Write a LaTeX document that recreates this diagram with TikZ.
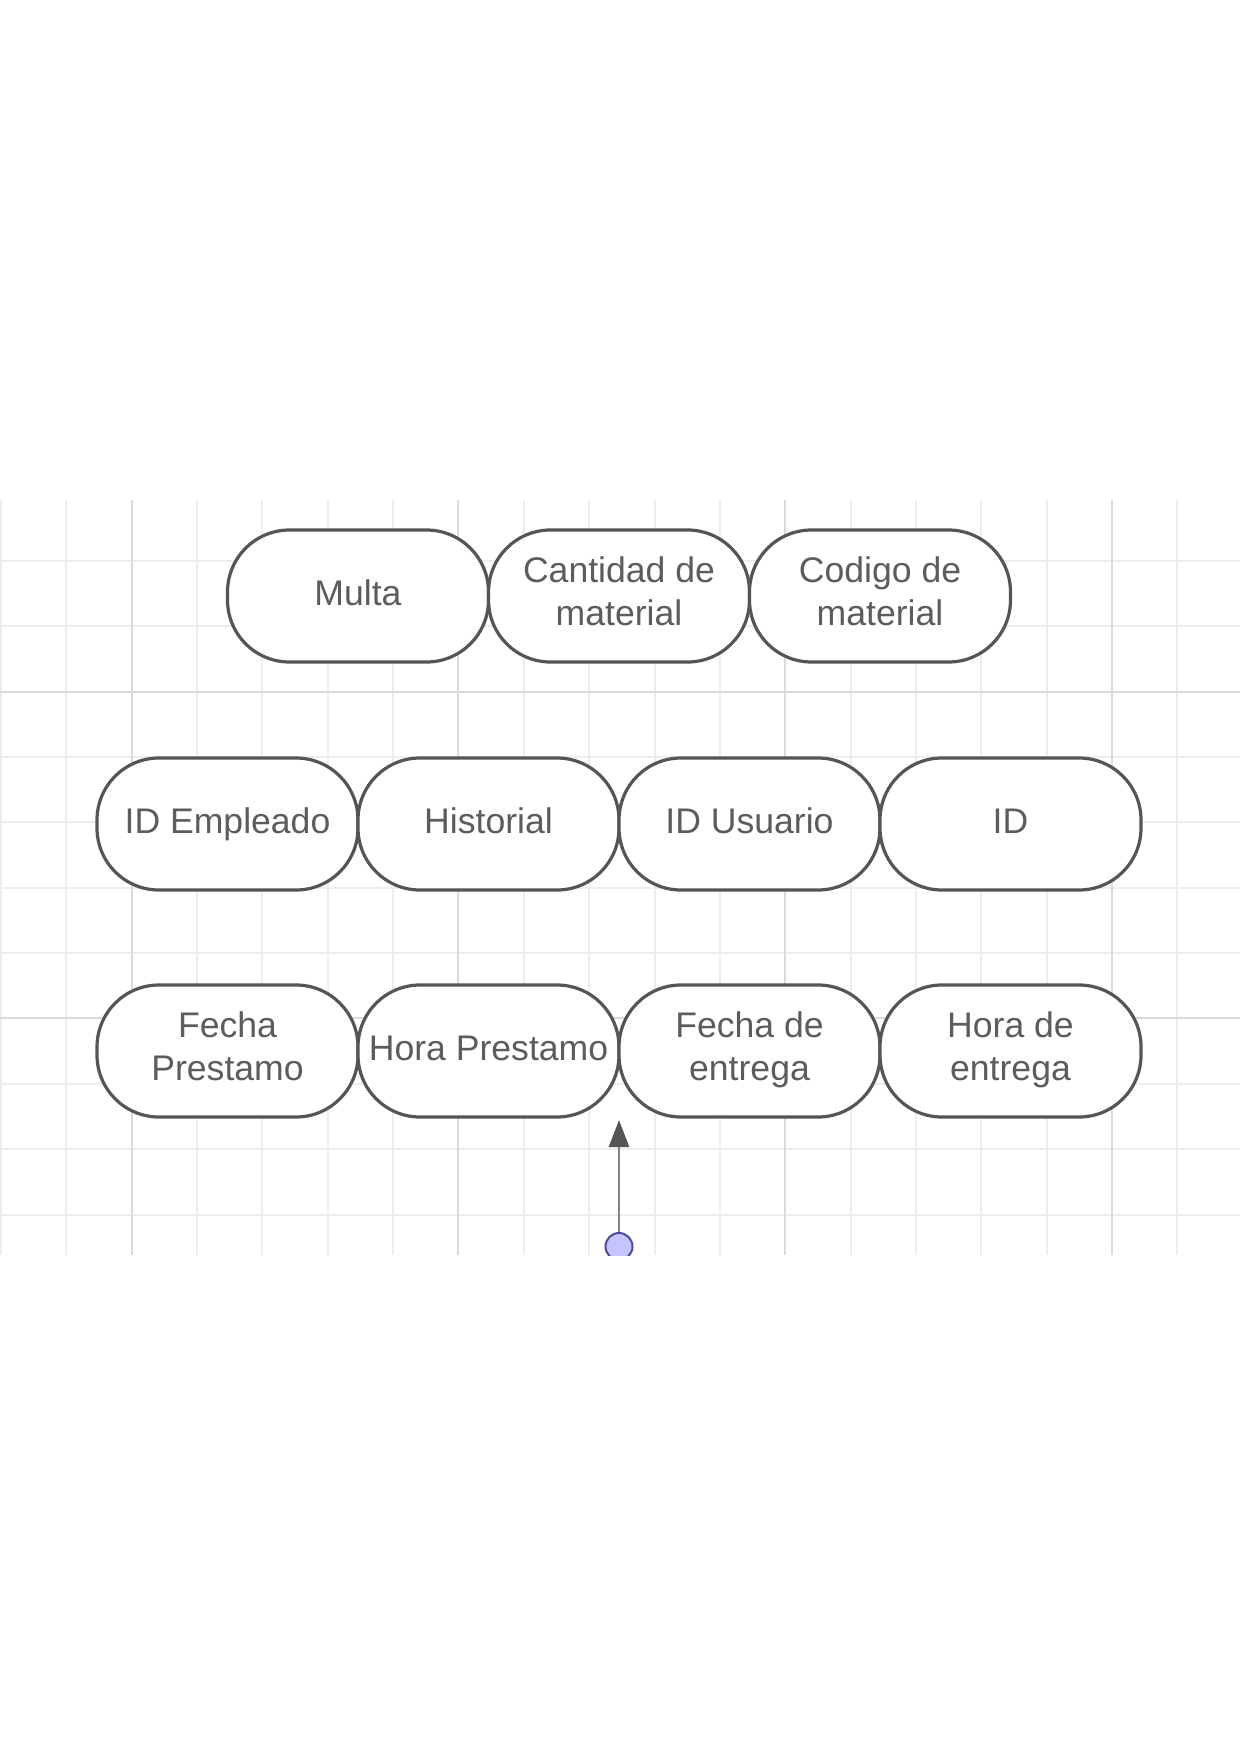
\documentclass[tikz,border=0pt]{standalone}
\usepackage{fontspec}
\setmainfont{Liberation Sans}
\usetikzlibrary{arrows.meta, positioning}
\definecolor{edgegray}{HTML}{555555}
\definecolor{labelgray}{HTML}{5C5C5C}
\definecolor{shaftgray}{HTML}{858585}
\definecolor{gridminor}{HTML}{EDEDED}
\definecolor{gridmajor}{HTML}{DADADA}
\definecolor{dotfill}{HTML}{C4C4FF}
\definecolor{dotline}{HTML}{4C4C9C}
\newcommand{\labelstrut}{\rule[-4.7pt]{0pt}{18.7pt}}

\begin{document}
\begin{tikzpicture}[
    x=0.5pt, y=-0.5pt,
    >={Triangle[width=10pt, length=13.5pt, fill=edgegray, color=edgegray]},
    attr/.style ={draw=edgegray, line width=1.6pt, rounded corners=31pt,
                  fill=white, text=labelgray, align=center,
                  minimum width=130.5pt, minimum height=66pt,
                  inner sep=0pt, outer sep=0pt,
                  font=\fontsize{17.8}{21.5}\selectfont,
                  execute at begin node=\labelstrut,
                  execute at end node=\labelstrut},
    minorline/.style={draw=gridminor, line width=1pt},
    majorline/.style={draw=gridmajor, line width=1pt},
    dot/.style ={draw=dotline, fill=dotfill, circle, line width=1pt,
                 minimum size=13.5pt, inner sep=0pt},
    flow/.style={->, draw=shaftgray, line width=1.3pt},
]
\useasboundingbox (0,0) rectangle (1240,1755);
% background grid
\foreach \k in {0,...,18}
  \draw[minorline] (1.0+65.35*\k,500) -- (1.0+65.35*\k,1255);
\foreach \k in {0,...,10}
  \draw[minorline] (0,561+65.35*\k) -- (1240,561+65.35*\k);
\foreach \k in {2,7,12,17}
  \draw[majorline] (1.0+65.35*\k,500) -- (1.0+65.35*\k,1255);
\foreach \k in {2,7}
  \draw[majorline] (0,561+65.35*\k) -- (1240,561+65.35*\k);
% middle row
\node[attr] (idemp) at (227.5,824) {ID Empleado};
\node[attr, right=0pt of idemp] (hist) {Historial};
\node[attr, right=0pt of hist] (idusr) {ID Usuario};
\node[attr, right=0pt of idusr] (id) {ID};
% top row
\node[attr, above=48pt of hist.north west] (multa) {Multa};
\node[attr, right=0pt of multa] (cantmat) {Cantidad de\\material};
\node[attr, right=0pt of cantmat] (codmat) {Codigo de\\material};
% bottom row
\node[attr, below=47.5pt of idemp] (fechap) {Fecha\\Prestamo};
\node[attr, right=0pt of fechap] (horap) {Hora Prestamo};
\node[attr, right=0pt of horap] (fechae) {Fecha de\\entrega};
\node[attr, right=0pt of fechae] (horae) {Hora de\\entrega};
% loose connector end, cut by the grid edge
\begin{scope}
  \clip (0,500) rectangle (1240,1255);
  \node[dot] (src) at (619,1246.5) {};
\end{scope}
\draw[flow] (src.north) -- ([yshift=-1.5pt]horap.south east);
\end{tikzpicture}
\end{document}
